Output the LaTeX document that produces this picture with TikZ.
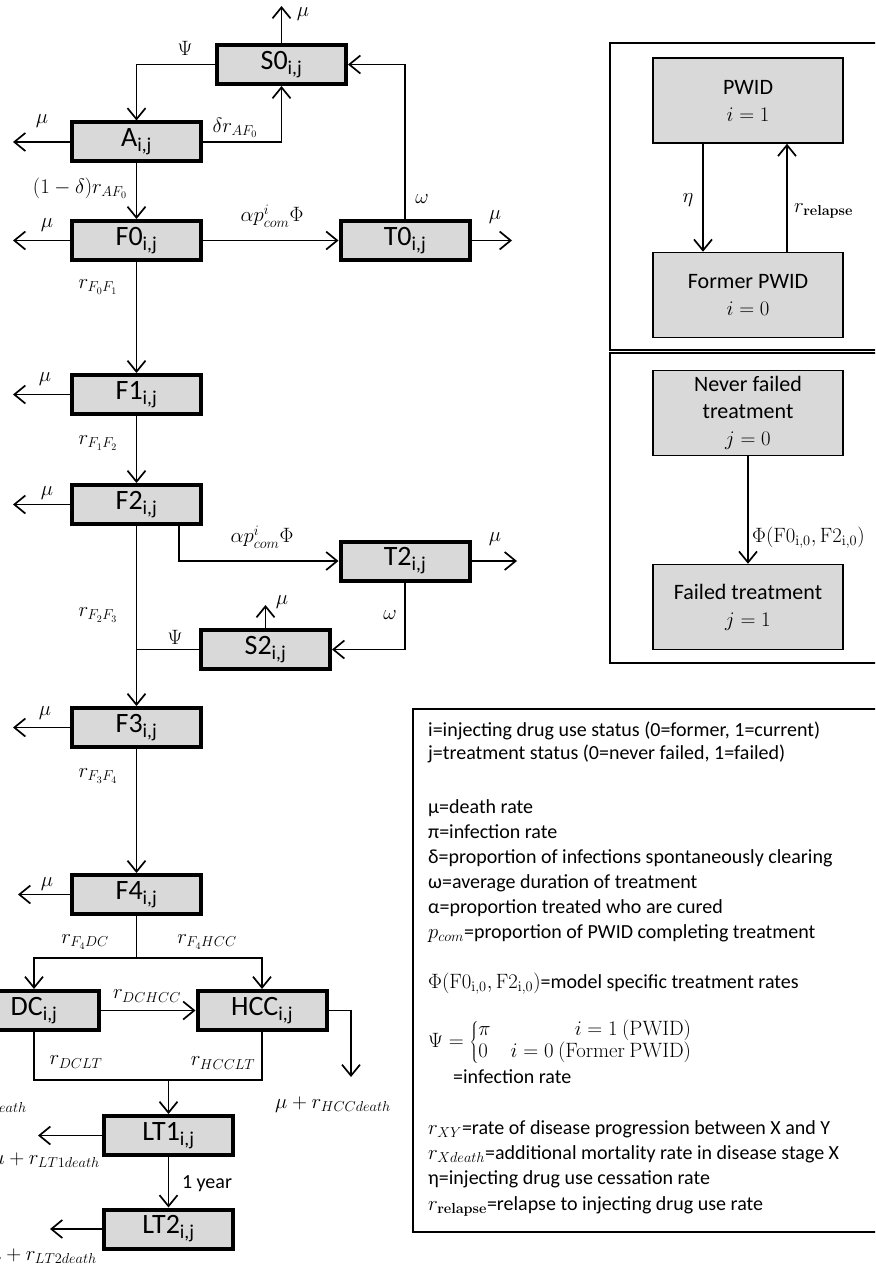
\documentclass[tikz,border=0pt]{standalone}
\usepackage[no-math]{fontspec}
\setmainfont{Carlito}
\usetikzlibrary{arrows.meta}
\definecolor{boxgray}{RGB}{217,217,217}
\newcommand{\subij}{\textsubscript{i,j}}
\begin{document}
\begin{tikzpicture}[x=1pt,y=-1pt,
  box/.style={draw,line width=4pt,fill=boxgray,minimum width=129pt,minimum height=39pt,inner sep=0pt,font=\fontsize{28}{30}\selectfont},
  pbox/.style={draw,line width=1.5pt,fill=boxgray,minimum width=190pt,minimum height=85pt,inner sep=0pt,align=center,font=\fontsize{22}{27}\selectfont},
  arr/.style={line width=1.7pt,-{Straight Barb[length=11pt,width=18pt]}},
  conn/.style={line width=1.7pt},
  lab/.style={inner sep=0pt,font=\fontsize{20}{24}\selectfont},
  leg/.style={inner sep=0pt,anchor=base west,font=\fontsize{20}{25}\selectfont}]
\useasboundingbox (0,0) rectangle (875,1268);
\clip (0,0) rectangle (875,1268);
% compartments
\node[box] (S0) at (281.5,64.5) {S0\subij};
\node[box] (A) at (136.5,142) {A\subij};
\node[box] (F0) at (136.5,240.5) {F0\subij};
\node[box] (T0) at (405,240.5) {T0\subij};
\node[box] (F1) at (136.5,394.5) {F1\subij};
\node[box] (F2) at (136.5,504.5) {F2\subij};
\node[box] (T2) at (405,561) {T2\subij};
\node[box] (S2) at (265.5,649.5) {S2\subij};
\node[box] (F3) at (136.5,727.5) {F3\subij};
\node[box] (F4) at (136.5,894.5) {F4\subij};
\node[box] (DC) at (34,1010.5) {DC\subij};
\node[box] (HCC) at (262,1010.5) {HCC\subij};
\node[box] (LT1) at (168.5,1135.5) {LT1\subij};
\node[box] (LT2) at (168.5,1229) {LT2\subij};
\coordinate (S0mu) at (281.5,6);
\coordinate (Amu) at (13,142);
\coordinate (F0mu) at (13,240.5);
\coordinate (T0mu) at (512,240.5);
\coordinate (F1mu) at (13,394.5);
\coordinate (F2mu) at (13,504.5);
\coordinate (T2mu) at (517,561);
\coordinate (S2mu) at (265.5,605);
\coordinate (F3mu) at (13,727.5);
\coordinate (F4mu) at (18,894.5);
\coordinate (fsplit) at (136.5,958);
\coordinate (hccmu) at (351,1077);
\coordinate (ltjoin) at (168.5,1080);
\coordinate (LT1mu) at (38,1135.5);
\coordinate (LT2mu) at (50,1229);
\draw[arr] (S0) -- (S0mu);
\draw[arr] (S0.west) -| (A.north);
\draw[arr] (A) -- (Amu);
\draw[arr] (A.east) -| (S0.south);
\draw[arr] (A) -- (F0);
\draw[arr] (F0) -- (F0mu);
\draw[arr] (F0) -- (T0);
\draw[arr] (T0.north) |- (S0.east);
\draw[arr] (T0) -- (T0mu);
\draw[arr] (F0) -- (F1);
\draw[arr] (F1) -- (F1mu);
\draw[arr] (F1) -- (F2);
\draw[arr] (F2) -- (F2mu);
\draw[arr] ([xshift=-24pt]F2.south east) |- (T2.west);
\draw[arr] (T2) -- (T2mu);
\draw[arr] (T2.south) |- (S2.east);
\draw[arr] (S2) -- (S2mu);
\draw[conn] (S2.west) -- (S2.west -| F2.south);
\draw[arr] (F2) -- (F3);
\draw[arr] (F3) -- (F3mu);
\draw[arr] (F3) -- (F4);
\draw[arr] (F4) -- (F4mu);
\draw[conn] (F4.south) -- (fsplit);
\draw[arr] (fsplit) -| (DC.north);
\draw[arr] (fsplit) -| (HCC.north);
\draw[arr] (DC) -- (HCC);
\draw[arr] (HCC.east) -| (hccmu);
\draw[conn] (DC.south) |- (ltjoin);
\draw[conn] (HCC.south) |- (ltjoin);
\draw[arr] (ltjoin) -- (LT1);
\draw[arr] (LT1) -- (LT1mu);
\draw[arr] (LT1) -- (LT2);
\draw[arr] (LT2) -- (LT2mu);
% rates
\node[lab] (lS0mu) at (303,14) {$\mu$};
\node[lab] (lpsi0) at (185,48) {$\Psi$};
\node[lab] (lAmu) at (42,121) {$\mu$};
\node[lab] (lAS0) at (235,128) {$\delta r_{AF_0}$};
\node[lab] (lAF0) at (80,188) {$(1-\delta)r_{AF_0}$};
\node[lab] (lF0mu) at (47,225) {$\mu$};
\node[lab] (lF0T0) at (272,216) {$\alpha p_{com}^{i}\Phi$};
\node[lab] (lT0S0) at (422,199) {$\omega$};
\node[lab] (lT0mu) at (495,217) {$\mu$};
\node[lab] (lF0F1) at (98,287) {$r_{F_0F_1}$};
\node[lab] (lF1mu) at (45,379) {$\mu$};
\node[lab] (lF1F2) at (98,443) {$r_{F_1F_2}$};
\node[lab] (lF2mu) at (47,493) {$\mu$};
\node[lab] (lF2T2) at (262,537) {$\alpha p_{com}^{i}\Phi$};
\node[lab] (lT2mu) at (495,539) {$\mu$};
\node[lab] (lT2S2) at (390,615) {$\omega$};
\node[lab] (lF2F3) at (98,615) {$r_{F_2F_3}$};
\node[lab] (lS2mu) at (282,602) {$\mu$};
\node[lab] (lpsi2) at (175,637) {$\Psi$};
\node[lab] (lF3mu) at (45,713) {$\mu$};
\node[lab] (lF3F4) at (98,776) {$r_{F_3F_4}$};
\node[lab] (lF4mu) at (47,884) {$\mu$};
\node[lab] (lF4DC) at (85,942) {$r_{F_4DC}$};
\node[lab] (lF4HCC) at (207,942) {$r_{F_4HCC}$};
\node[lab] (lDCHCC) at (147,996) {$r_{DCHCC}$};
\node[lab] (lDCLT) at (76,1062) {$r_{DCLT}$};
\node[lab] (lHCCLT) at (223,1063) {$r_{HCCLT}$};
\node[lab] (lHCCmu) at (333,1105) {$\mu+r_{HCCdeath}$};
\node[lab,anchor=east] (lDCmu) at (27,1106) {$\mu+r_{DCdeath}$};
\node[lab,anchor=east] (lLT1mu) at (100,1161) {$\mu+r_{LT1death}$};
\node[lab] (lyear) at (207,1184) {1 year};
\node[lab,anchor=east] (lLT2mu) at (97,1257) {$\mu+r_{LT2death}$};
% strata
\draw[line width=2pt] (610,43) rectangle (890,350);
\draw[line width=2pt] (610,353) rectangle (890,663);
\node[pbox] (PWID) at (748,100.5) {PWID\\$i=1$};
\node[pbox] (FPWID) at (748,295) {Former PWID\\$i=0$};
\node[pbox] (NF) at (748,413) {Never failed\\treatment\\$j=0$};
\node[pbox] (FT) at (748,607) {Failed treatment\\$j=1$};
\draw[arr] ([xshift=-45pt]PWID.south) -- ([xshift=-45pt]FPWID.north);
\draw[arr] ([xshift=39pt]FPWID.north) -- ([xshift=39pt]PWID.south);
\draw[arr] (NF) -- (FT);
\node[lab] (leta) at (688,200) {$\eta$};
\node[lab,anchor=west] (lrel) at (794,211) {$r_{\mathbf{relapse}}$};
\node[lab,anchor=west] (lphi) at (752,538) {$\Phi(\mathrm{F0}_{\mathrm{i,0}},\mathrm{F2}_{\mathrm{i,0}})$};
% key
\draw[line width=2pt] (413,709) rectangle (890,1232);
\node[leg] (k1) at (428,736) {i=injecting drug use status (0=former, 1=current)};
\node[leg] (k2) at (428,759) {j=treatment status (0=never failed, 1=failed)};
\node[leg] (k3) at (428,813) {μ=death rate};
\node[leg] (k4) at (428,838) {π=infection rate};
\node[leg] (k5) at (428,863) {δ=proportion of infections spontaneously clearing};
\node[leg] (k6) at (428,888) {ω=average duration of treatment};
\node[leg] (k7) at (428,913) {α=proportion treated who are cured};
\node[leg] (k8) at (428,938) {$p_{com}$=proportion of PWID completing treatment};
\node[leg] (k9) at (428,988) {$\Phi(\mathrm{F0}_{\mathrm{i,0}},\mathrm{F2}_{\mathrm{i,0}})$=model specific treatment rates};
\node[leg,anchor=west,font=\fontsize{20}{22}\selectfont] (k10) at (428,1042) {$\Psi=\left\{\begin{array}{@{}l@{\hspace{20pt}}r@{}}\pi & i=1\ (\mathrm{PWID})\\ 0 & i=0\ (\mathrm{Former\ PWID})\end{array}\right.$};
\node[leg] (k11) at (453,1083) {=infection rate};
\node[leg] (k12) at (428,1134) {$r_{XY}$=rate of disease progression between X and Y};
\node[leg] (k13) at (428,1159) {$r_{Xdeath}$=additional mortality rate in disease stage X};
\node[leg] (k14) at (428,1184) {η=injecting drug use cessation rate};
\node[leg] (k15) at (428,1210) {$r_{\mathbf{relapse}}$=relapse to injecting drug use rate};
\end{tikzpicture}
\end{document}
